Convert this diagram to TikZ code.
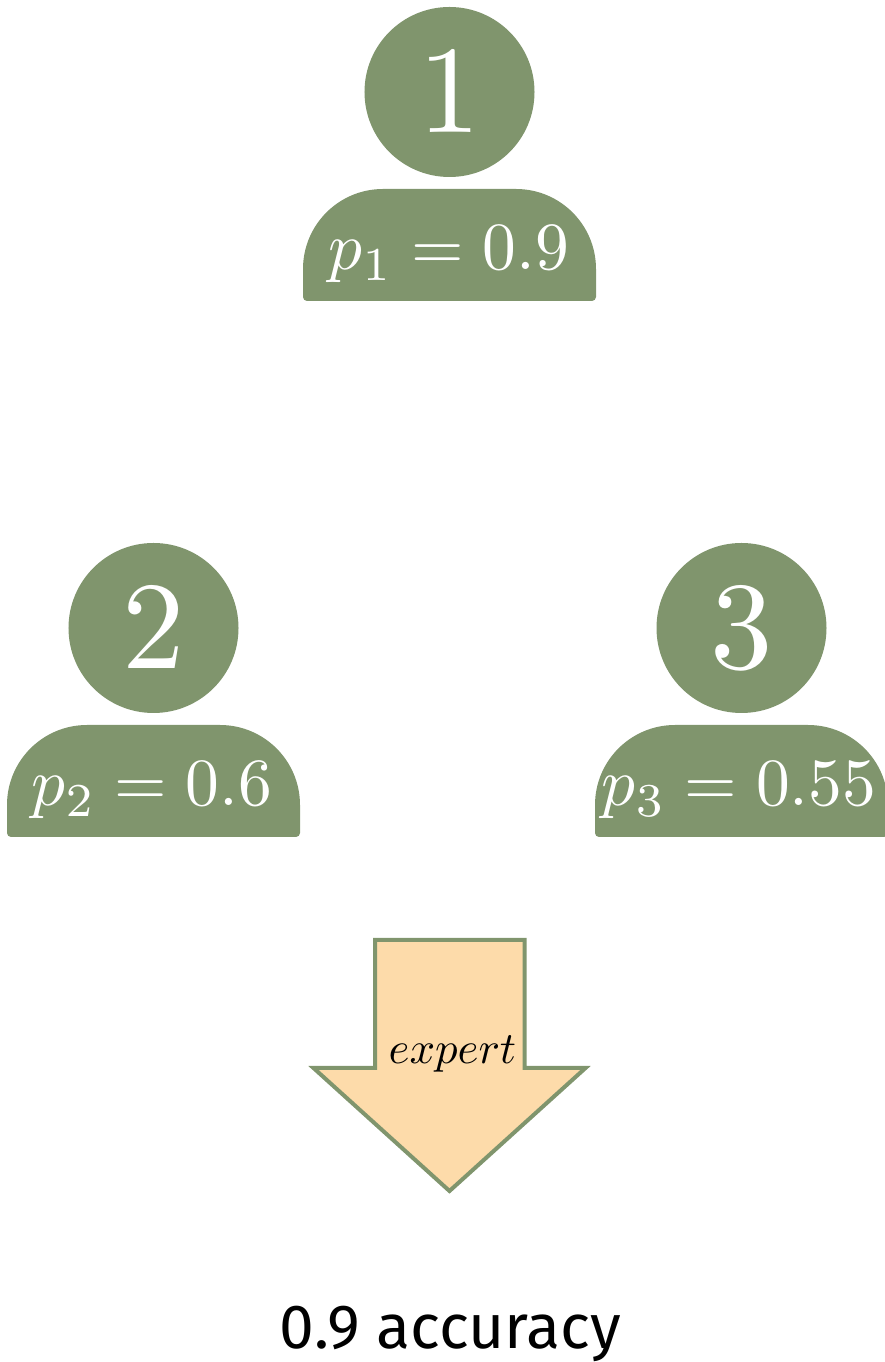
\documentclass[tikz,border=0pt]{standalone}
\usepackage{fontspec}
\newfontfamily\labelfont{Fira Sans}
\definecolor{expertgreen}{RGB}{128,149,109}
\definecolor{expertorange}{RGB}{253,219,170}
\tikzset{
  head/.style={circle,fill=expertgreen,text=white,minimum size=.4789cm,inner sep=0pt,
    scale=7.1,transform shape},
  body/.style={fill=expertgreen},
  prob/.style={anchor=base,text=white,inner sep=0pt,scale=3.84,transform shape}
}

\begin{document}
\begin{tikzpicture}[x=1cm,y=1cm,line join=miter]
  \useasboundingbox (0,0) rectangle (17.7,27.24);
  \clip (0,0) rectangle (17.7,27.24);
  % first person
  \node[head] (head1) at (8.99,25.40) {$1$};
  \fill[body] (8.99,21.22) [rounded corners=.08cm] -- (6.06,21.22) [rounded corners=1.6cm] -- (6.06,23.46) -- (11.92,23.46) [rounded corners=.08cm] -- (11.92,21.22) -- cycle;
  \node[prob] (prob1) at (8.98,21.84) {$p_1=0.9$};
  % second person
  \node[head] (head2) at (3.07,14.68) {$2$};
  \fill[body] (3.07,10.50) [rounded corners=.08cm] -- (.14,10.50) [rounded corners=1.6cm] -- (.14,12.74) -- (6.00,12.74) [rounded corners=.08cm] -- (6.00,10.50) -- cycle;
  \node[prob] (prob2) at (3.04,11.12) {$p_2=0.6$};
  % third person
  \node[head] (head3) at (14.83,14.68) {$3$};
  \fill[body] (14.83,10.50) [rounded corners=.08cm] -- (11.90,10.50) [rounded corners=1.6cm] -- (11.90,12.74) -- (17.76,12.74) [rounded corners=.08cm] -- (17.76,10.50) -- cycle;
  \node[prob] (prob3) at (14.78,11.12) {$p_3=0.55$};
  % arrow down to the result
  \draw[expertgreen,fill=expertorange,line width=.08cm] (7.50,8.44) -- (10.49,8.44) -- (10.49,5.88) -- (11.71,5.88) -- (8.99,3.42) -- (6.27,5.88) -- (7.50,5.88) -- cycle;
  \node[anchor=base,inner sep=0pt,scale=2.55,transform shape] (expert) at (9.05,5.96) {$expert$};
  \node[anchor=base,inner sep=0pt,font=\labelfont\fontsize{35.5}{42}\selectfont] (result) at (9.01,.28) {0.9 accuracy};
\end{tikzpicture}
\end{document}
